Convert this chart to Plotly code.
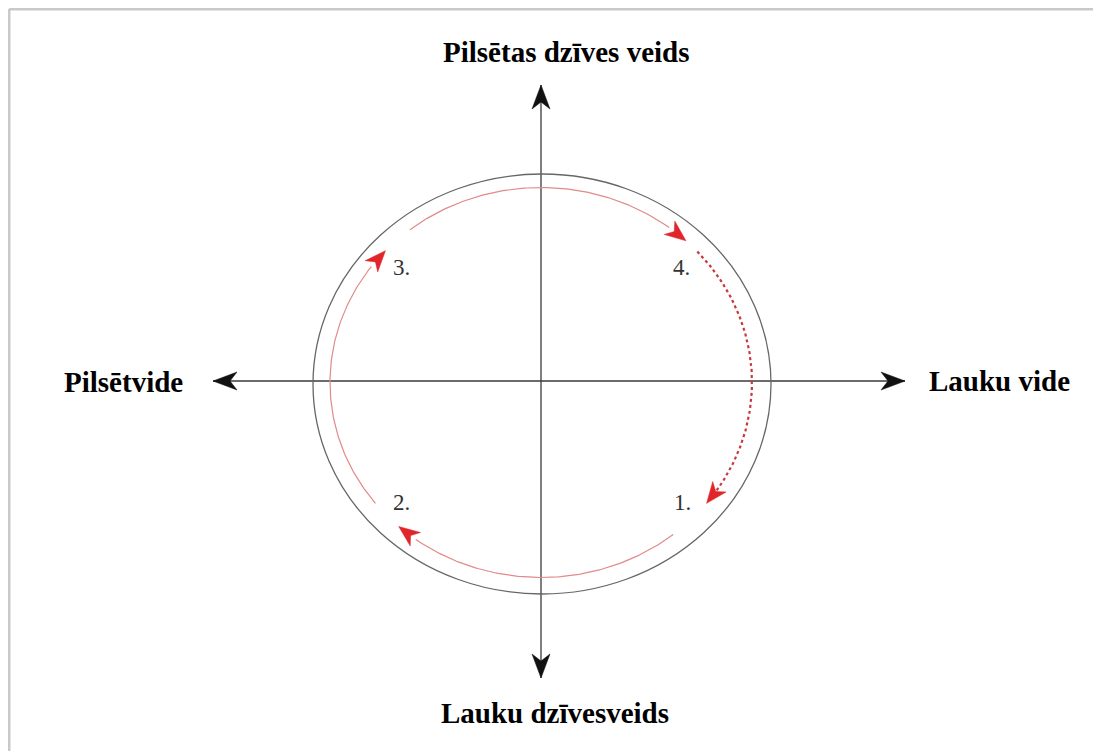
import numpy as np
import plotly.graph_objects as go

# ---- diagram data (coordinates in a centred, pixel-like unit system) ----
axis_labels = ["Pilsētas dzīves veids", "Lauku dzīvesveids", "Pilsētvide", "Lauku vide"]
axis_label_x = [25, 14, -418, 458]
axis_label_y = [329, -332, -1, 0]

# axis arrow tips: up, down, left, right
axis_tip_x = [0, 0, -328, 364]
axis_tip_y = [296, -297, 0, 0]

stage_labels = ["1.", "2.", "3.", "4."]
stage_x = [141, -140, -140, 140]
stage_y = [-121, -121, 114, 114]

# outer ellipse
outer_cx, outer_cy, outer_rx, outer_ry = 1, -3, 229, 210
# inner (arrow) ellipse
inner_cx, inner_cy, inner_rx, inner_ry = 0, -1.5, 211, 195

# arcs (start angle, end angle in degrees, clockwise), style
arc_start = [128.4, 42.2, -51.2, 218.3]
arc_end = [46.6, -38.3, -132.4, 137.5]
arc_dotted = [False, True, False, False]

fig = go.Figure()

def arrow_poly(tx, ty, dx, dy, L, W, N):
    n = np.hypot(dx, dy)
    dx, dy = dx / n, dy / n
    px, py = -dy, dx
    xs = [tx, tx - L * dx + W * px, tx - (L - N) * dx, tx - L * dx - W * px, tx]
    ys = [ty, ty - L * dy + W * py, ty - (L - N) * dy, ty - L * dy - W * py, ty]
    return xs, ys

# frame (top and left gray border)
fig.add_shape(type="line", x0=-532, x1=568, y0=372, y1=372, line=dict(color="#c9c9c9", width=3))
fig.add_shape(type="line", x0=-532, x1=-532, y0=372, y1=-378, line=dict(color="#c9c9c9", width=3))

# outer ellipse
fig.add_shape(type="circle", x0=outer_cx - outer_rx, x1=outer_cx + outer_rx,
              y0=outer_cy - outer_ry, y1=outer_cy + outer_ry,
              line=dict(color="#666666", width=1.3))

# axes lines
fig.add_trace(go.Scatter(x=[axis_tip_x[0], axis_tip_x[1]], y=[axis_tip_y[0], axis_tip_y[1]],
                         mode="lines", line=dict(color="#3a3a3a", width=1.3), hoverinfo="skip"))
fig.add_trace(go.Scatter(x=[axis_tip_x[2], axis_tip_x[3]], y=[axis_tip_y[2], axis_tip_y[3]],
                         mode="lines", line=dict(color="#3a3a3a", width=1.3), hoverinfo="skip"))
# axis arrowheads
dirs = [(0, 1), (0, -1), (-1, 0), (1, 0)]
for (tx, ty), (dx, dy) in zip(zip(axis_tip_x, axis_tip_y), dirs):
    xs, ys = arrow_poly(tx, ty, dx, dy, 24, 9, 7)
    fig.add_trace(go.Scatter(x=xs, y=ys, mode="lines", fill="toself", fillcolor="#111111",
                             line=dict(color="#111111", width=0.5), hoverinfo="skip"))

# red arcs with arrowheads
for a0, a1, dotted in zip(arc_start, arc_end, arc_dotted):
    L = 21
    t = np.radians(np.linspace(a0, a1 + (6 if not dotted else 4), 120))
    x = inner_cx + inner_rx * np.cos(t)
    y = inner_cy + inner_ry * np.sin(t)
    if dotted:
        line = dict(color="#c8383c", width=2.2, dash="dot")
    else:
        line = dict(color="#e08a8a", width=1.2)
    fig.add_trace(go.Scatter(x=x, y=y, mode="lines", line=line, hoverinfo="skip"))
    te = np.radians(a1)
    tx = inner_cx + inner_rx * np.cos(te)
    ty = inner_cy + inner_ry * np.sin(te)
    tb = np.radians(a1 + 5.5)
    bx = inner_cx + inner_rx * np.cos(tb)
    by = inner_cy + inner_ry * np.sin(tb)
    xs, ys = arrow_poly(tx, ty, tx - bx, ty - by, L, 8.5, 6)
    fig.add_trace(go.Scatter(x=xs, y=ys, mode="lines", fill="toself", fillcolor="#e0262b",
                             line=dict(color="#e0262b", width=0.5), hoverinfo="skip"))

# axis labels
for txt, x, y in zip(axis_labels, axis_label_x, axis_label_y):
    fig.add_annotation(x=x, y=y, text="<b>" + txt + "</b>", showarrow=False,
                       font=dict(family="Liberation Serif", size=29, color="#000000"),
                       xanchor="center", yanchor="middle")

# stage labels
for txt, x, y in zip(stage_labels, stage_x, stage_y):
    fig.add_annotation(x=x, y=y, text=txt, showarrow=False,
                       font=dict(family="Liberation Serif", size=23, color="#333333"),
                       xanchor="center", yanchor="middle")

# page body has an 8px margin: shift ranges so the centre lands at (541, 381)
fig.update_layout(
    width=1101, height=751,
    margin=dict(l=0, r=0, t=0, b=0),
    paper_bgcolor="white", plot_bgcolor="white",
    showlegend=False,
    xaxis=dict(range=[-533, 568], visible=False, fixedrange=True),
    yaxis=dict(range=[-378, 373], visible=False, fixedrange=True),
)

fig.write_html("out.html")
